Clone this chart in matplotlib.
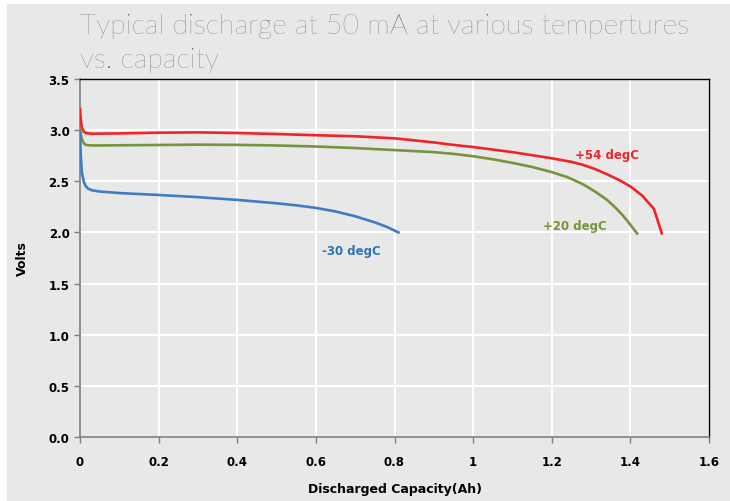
import numpy as np
import matplotlib
matplotlib.use("Agg")
import matplotlib.pyplot as plt
from matplotlib.patches import Rectangle

# Discharge curves (capacity in Ah, voltage in V)
cap_54 = [0.0, 0.002, 0.005, 0.01, 0.015, 0.03, 0.1, 0.2, 0.3, 0.4, 0.5, 0.6, 0.7, 0.8,
          0.85, 0.9, 0.94, 1.0, 1.05, 1.1, 1.15, 1.2, 1.25, 1.28, 1.31, 1.34, 1.37, 1.4,
          1.43, 1.46, 1.47, 1.48]
volt_54 = [3.21, 3.10, 3.02, 2.985, 2.972, 2.965, 2.968, 2.975, 2.978, 2.972, 2.962, 2.95,
           2.94, 2.92, 2.90, 2.88, 2.86, 2.835, 2.81, 2.785, 2.755, 2.725, 2.69, 2.66,
           2.62, 2.57, 2.515, 2.45, 2.36, 2.23, 2.11, 1.99]

cap_20 = [0.0, 0.002, 0.005, 0.01, 0.015, 0.03, 0.1, 0.2, 0.3, 0.4, 0.5, 0.6, 0.7, 0.8,
          0.9, 0.95, 1.0, 1.05, 1.1, 1.15, 1.2, 1.24, 1.28, 1.31, 1.34, 1.36, 1.38,
          1.395, 1.407, 1.417]
volt_20 = [3.02, 2.96, 2.91, 2.87, 2.855, 2.85, 2.852, 2.855, 2.858, 2.856, 2.85, 2.84,
           2.825, 2.805, 2.785, 2.768, 2.745, 2.715, 2.68, 2.64, 2.59, 2.54, 2.47, 2.40,
           2.32, 2.25, 2.17, 2.10, 2.04, 1.99]

cap_m30 = [0.0, 0.002, 0.005, 0.01, 0.015, 0.02, 0.03, 0.05, 0.1, 0.2, 0.3, 0.4, 0.5, 0.55,
           0.6, 0.65, 0.7, 0.75, 0.78, 0.81]
volt_m30 = [2.98, 2.75, 2.58, 2.49, 2.45, 2.43, 2.412, 2.40, 2.385, 2.366, 2.345, 2.318,
            2.285, 2.265, 2.24, 2.205, 2.158, 2.098, 2.055, 2.0]

labels = ["+54 degC", "+20 degC", "-30 degC"]
label_pos = [(1.34, 2.76), (1.26, 2.07), (0.69, 1.82)]

x_ticks = [0, 0.2, 0.4, 0.6, 0.8, 1.0, 1.2, 1.4, 1.6]
x_ticklabels = ["0", "0.2", "0.4", "0.6", "0.8", "1", "1.2", "1.4", "1.6"]
y_ticks = [0.0, 0.5, 1.0, 1.5, 2.0, 2.5, 3.0, 3.5]

bg = "#e8e8e8"
red, green, blue = "#f22227", "#77933c", "#3f7cc4"

fig = plt.figure(figsize=(7.3, 5.02), dpi=100)
fig.patch.set_facecolor("white")
fig.patches.append(Rectangle((7 / 730, 0), 1, 1 - 5 / 502, transform=fig.transFigure,
                             facecolor=bg, edgecolor="none", zorder=-10))

ax = fig.add_axes([80 / 730, 1 - 438 / 502, 629 / 730, 358 / 502])
ax.set_facecolor(bg)

ax.plot(cap_54, volt_54, color=red, lw=1.9, zorder=3, solid_joinstyle="round")
ax.plot(cap_20, volt_20, color=green, lw=1.9, zorder=3, solid_joinstyle="round")
ax.plot(cap_m30, volt_m30, color=blue, lw=1.9, zorder=3, solid_joinstyle="round")

for text, (x, y), c in zip(labels, label_pos, [red, green, "#2e74b5"]):
    ax.text(x, y, text, color=c, fontsize=8.5, fontweight="bold", ha="center", va="center")

ax.set_xlim(0, 1.6)
ax.set_ylim(0, 3.5)
ax.set_xticks(x_ticks)
ax.set_xticklabels(x_ticklabels)
ax.set_yticks(y_ticks)
ax.set_yticklabels([f"{v:.1f}" for v in y_ticks])
ax.grid(True, color="white", lw=1.5, zorder=0)
ax.set_axisbelow(True)

for side in ["left", "bottom"]:
    ax.spines[side].set_color("#7f7f7f")
    ax.spines[side].set_linewidth(1.2)
for side in ["top", "right"]:
    ax.spines[side].set_color("black")
    ax.spines[side].set_linewidth(1.0)

ax.tick_params(axis="both", colors="#7f7f7f", labelcolor="black", length=4, width=1,
               labelsize=8.5)
for lab in ax.get_xticklabels() + ax.get_yticklabels():
    lab.set_fontweight("bold")
ax.tick_params(axis="x", pad=9)

ax.set_xlabel("Discharged Capacity(Ah)", fontsize=9, fontweight="bold", labelpad=10)
ax.set_ylabel("Volts", fontsize=9, fontweight="bold", labelpad=14)

fig.text(80 / 730, 1 - 14 / 502, "Typical discharge at 50 mA at various tempertures\nvs. capacity",
         fontsize=20.5, color="#5a5a5a", family="Lato", fontweight="light",
         ha="left", va="top", linespacing=1.45)

fig.savefig("out.png", dpi=100, facecolor=fig.get_facecolor())
